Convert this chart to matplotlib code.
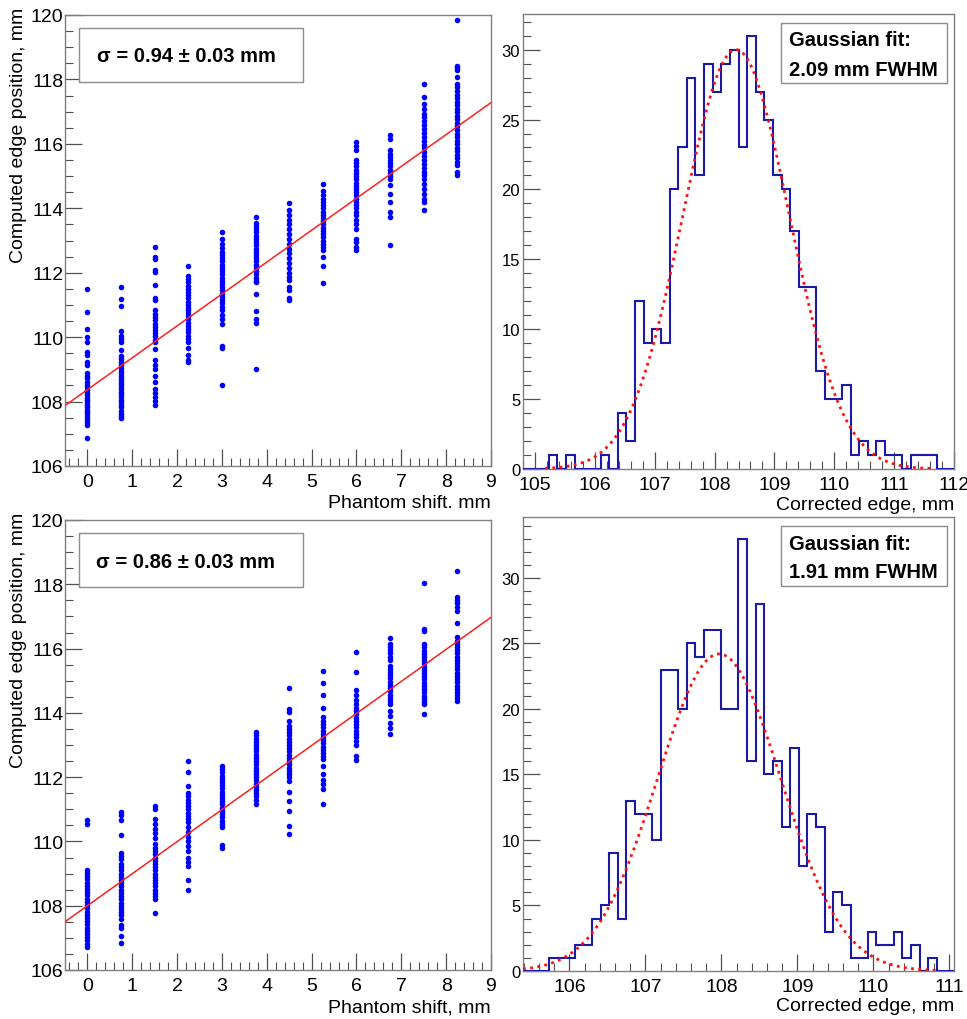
import matplotlib
matplotlib.use('Agg')
import matplotlib.pyplot as plt
import numpy as np
from matplotlib.ticker import MultipleLocator
from matplotlib.patches import Rectangle

plt.rcParams['font.family'] = ['Liberation Sans', 'DejaVu Sans']

W, H = 967, 1020

# phantom shifts (mm) of the 12 scan positions
shift = [0, 0.75, 1.5, 2.25, 3, 3.75, 4.5, 5.25, 6, 6.75, 7.5, 8.25]

# computed edge positions, upper data set (one list per shift)
top_cols = [
    [111.50, 110.79, 110.25, 110.0, 109.85, 109.55, 109.45, 109.22, 109.15, 108.88, 108.80, 108.72, 108.62,
     108.52, 108.45, 108.36, 108.28, 108.20, 108.12, 108.05, 107.98, 107.90, 107.82, 107.75, 107.68, 107.60,
     107.52, 107.45, 107.36, 107.28, 106.86],
    [111.55, 111.18, 110.97, 110.18, 110.05, 109.95, 109.85, 109.60, 109.42, 109.32, 109.22, 109.12, 109.05,
     108.95, 108.88, 108.78, 108.70, 108.62, 108.55, 108.45, 108.38, 108.30, 108.22, 108.15, 108.05, 107.98,
     107.90, 107.82, 107.72, 107.62, 107.55, 107.48],
    [112.80, 112.48, 112.42, 112.08, 112.02, 111.63, 111.20, 111.14, 110.85, 110.72, 110.62, 110.52, 110.42,
     110.32, 110.22, 110.12, 110.02, 109.92, 109.85, 109.62, 109.28, 109.15, 109.02, 108.80, 108.62, 108.40,
     108.28, 108.15, 108.02, 107.90],
    [112.22, 111.90, 111.80, 111.70, 111.60, 111.50, 111.40, 111.30, 111.20, 111.10, 111.00, 110.92, 110.85,
     110.75, 110.65, 110.55, 110.45, 110.35, 110.25, 110.15, 110.05, 109.95, 109.85, 109.65, 109.45, 109.30,
     109.22],
    [113.27, 113.05, 112.90, 112.78, 112.65, 112.55, 112.45, 112.35, 112.25, 112.15, 112.05, 111.95, 111.85,
     111.75, 111.65, 111.55, 111.45, 111.35, 111.25, 111.15, 111.05, 110.95, 110.85, 110.70, 110.55, 110.42,
     109.72, 109.65, 108.50],
    [113.73, 113.55, 113.45, 113.35, 113.25, 113.15, 113.05, 112.95, 112.85, 112.75, 112.65, 112.55, 112.45,
     112.35, 112.25, 112.15, 112.05, 111.95, 111.85, 111.75, 111.70, 111.34, 110.82, 110.56, 110.45, 109.01],
    [114.15, 113.95, 113.80, 113.65, 113.50, 113.35, 113.20, 113.05, 112.90, 112.75, 112.60, 112.45, 112.30,
     112.15, 112.00, 111.88, 111.78, 111.55, 111.45, 111.22, 111.14],
    [114.75, 114.55, 114.40, 114.30, 114.20, 114.10, 114.00, 113.90, 113.80, 113.70, 113.60, 113.50, 113.40,
     113.30, 113.20, 113.10, 113.00, 112.90, 112.80, 112.70, 112.48, 112.22, 111.68],
    [116.05, 115.92, 115.80, 115.50, 115.40, 115.30, 115.20, 115.10, 115.00, 114.90, 114.80, 114.70, 114.60,
     114.50, 114.40, 114.30, 114.20, 114.10, 114.00, 113.90, 113.80, 113.65, 113.50, 113.35, 113.05, 112.95,
     112.80, 112.72],
    [116.26, 116.16, 115.80, 115.70, 115.60, 115.50, 115.40, 115.30, 115.20, 115.10, 115.00, 114.90, 114.72,
     114.45, 114.20, 113.88, 113.72, 112.85],
    [117.86, 117.45, 117.24, 117.08, 116.93, 116.82, 116.70, 116.58, 116.46, 116.34, 116.22, 116.10, 115.98,
     115.86, 115.74, 115.62, 115.50, 115.38, 115.26, 115.14, 115.02, 114.90, 114.75, 114.60, 114.45, 114.30,
     114.19, 113.96],
    [119.84, 118.43, 118.35, 118.28, 118.07, 117.86, 117.75, 117.64, 117.53, 117.42, 117.31, 117.20, 117.09,
     116.98, 116.87, 116.76, 116.65, 116.54, 116.43, 116.32, 116.21, 116.10, 115.99, 115.88, 115.77, 115.66,
     115.55, 115.44, 115.33, 115.12, 115.02],
]

# computed edge positions, lower data set
bot_cols = [
    [110.68, 110.55, 109.12, 109.02, 108.92, 108.82, 108.72, 108.62, 108.52, 108.42, 108.32, 108.22, 108.12,
     108.02, 107.92, 107.82, 107.72, 107.62, 107.52, 107.42, 107.32, 107.22, 107.12, 107.02, 106.92, 106.82,
     106.72],
    [110.93, 110.82, 110.68, 110.20, 109.65, 109.55, 109.45, 109.30, 109.20, 109.10, 109.00, 108.90, 108.80,
     108.70, 108.60, 108.50, 108.40, 108.30, 108.20, 108.10, 108.00, 107.90, 107.80, 107.70, 107.60, 107.40,
     107.30, 107.07, 106.85],
    [111.11, 111.00, 110.70, 110.55, 110.40, 110.25, 110.10, 109.92, 109.80, 109.70, 109.60, 109.50, 109.40,
     109.30, 109.20, 109.10, 109.00, 108.90, 108.80, 108.70, 108.60, 108.50, 108.40, 108.30, 108.20, 107.76],
    [112.51, 112.15, 111.73, 111.50, 111.40, 111.30, 111.20, 111.10, 111.00, 110.90, 110.80, 110.70, 110.60,
     110.45, 110.30, 110.15, 110.00, 109.85, 109.70, 109.50, 109.35, 109.25, 108.80, 108.50],
    [112.36, 112.25, 112.15, 112.05, 111.95, 111.85, 111.75, 111.65, 111.55, 111.45, 111.35, 111.25, 111.15,
     111.05, 110.95, 110.85, 110.75, 110.65, 110.55, 110.45, 109.90, 109.80],
    [113.40, 113.30, 113.20, 113.10, 113.00, 112.90, 112.80, 112.70, 112.60, 112.50, 112.40, 112.30, 112.20,
     112.10, 112.00, 111.90, 111.80, 111.70, 111.60, 111.50, 111.40, 111.30, 111.16],
    [114.76, 114.12, 114.02, 113.75, 113.60, 113.50, 113.40, 113.30, 113.20, 113.10, 113.00, 112.90, 112.80,
     112.70, 112.60, 112.50, 112.40, 112.30, 112.20, 112.10, 112.00, 111.89, 111.53, 111.27, 110.95, 110.49,
     110.23],
    [115.31, 114.93, 114.57, 114.15, 113.86, 113.75, 113.65, 113.55, 113.45, 113.35, 113.25, 113.15, 113.05,
     112.95, 112.85, 112.75, 112.65, 112.56, 112.36, 112.10, 111.90, 111.80, 111.63, 111.16],
    [115.90, 115.28, 114.70, 114.55, 114.40, 114.28, 114.15, 114.05, 113.95, 113.85, 113.75, 113.65, 113.55,
     113.45, 113.35, 113.25, 113.12, 113.00, 112.65, 112.52],
    [116.32, 116.15, 116.05, 115.95, 115.85, 115.75, 115.64, 115.47, 115.37, 115.27, 115.17, 115.07, 114.97,
     114.87, 114.77, 114.67, 114.57, 114.47, 114.37, 114.27, 114.06, 113.90, 113.70, 113.54, 113.34],
    [118.05, 116.61, 116.55, 116.14, 116.04, 115.94, 115.84, 115.74, 115.64, 115.54, 115.44, 115.34, 115.24,
     115.14, 115.04, 114.94, 114.84, 114.74, 114.64, 114.54, 114.44, 114.34, 114.28, 113.97],
    [118.40, 117.62, 117.52, 117.42, 117.30, 117.18, 116.80, 116.35, 116.25, 116.15, 116.05, 115.95, 115.85,
     115.75, 115.65, 115.55, 115.45, 115.35, 115.25, 115.15, 115.05, 114.95, 114.85, 114.75, 114.65, 114.55,
     114.45, 114.38],
]

# straight-line fits (intercept, slope)
top_line = (108.37, 0.99)
bot_line = (108.00, 0.997)

# corrected edge histograms: 50 bins each
top_counts = [0, 0, 0, 1, 0, 1, 0, 0, 0, 1, 0, 4, 2, 12, 9, 10, 9, 20, 23, 28, 21, 29, 27, 29, 30,
              23, 31, 27, 25, 21, 20, 17, 13, 13, 7, 5, 5, 6, 1, 2, 1, 2, 1, 1, 0, 1, 1, 1, 0, 0]
top_range = (104.8, 112.0)
bot_counts = [0, 0, 0, 1, 1, 1, 2, 2, 4, 5, 9, 4, 13, 12, 12, 10, 23, 23, 20, 25, 24, 26, 26, 20, 20,
              33, 16, 28, 15, 16, 11, 17, 8, 12, 11, 3, 6, 5, 1, 1, 3, 2, 2, 3, 1, 2, 0, 1, 0, 0]
bot_range = (105.39, 111.06)

# gaussian fits: amplitude, mean, FWHM, fit range
top_gauss = (30.0, 108.36, 2.09, 105.17, 111.67)
bot_gauss = (24.2, 107.97, 1.91, 105.39, 110.82)

sigma_text = ['\u03c3 = 0.94 \u00b1 0.03 mm', '\u03c3 = 0.86 \u00b1 0.03 mm']
fwhm_text = ['2.09 mm FWHM', '1.91 mm FWHM']
xlab_scatter = ['Phantom shift. mm', 'Phantom shift, mm']

SPINE = '#808080'
TICK = '#505050'


def px(x, y):
    return x / W, 1 - y / H


def add_axes(l, t, r, b):
    x0, y0 = px(l, b)
    x1, y1 = px(r, t)
    ax = fig.add_axes([x0, y0, x1 - x0, y1 - y0])
    for s in ax.spines.values():
        s.set_color(SPINE)
        s.set_linewidth(1.0)
    ax.tick_params(which='both', direction='in', top=False, right=False, color=TICK)
    ax.tick_params(which='major', length=12, width=0.9)
    ax.tick_params(which='minor', length=6, width=0.8)
    return ax


def box(l, t, r, b):
    x0, y0 = px(l, b)
    x1, y1 = px(r, t)
    fig.add_artist(Rectangle((x0, y0), x1 - x0, y1 - y0, transform=fig.transFigure,
                             facecolor='white', edgecolor='#8c8c8c', lw=1.0, zorder=5))


fig = plt.figure(figsize=(W / 100, H / 100), dpi=100)

# rows: (top px, bottom px)
rows = [(16, 467), (521, 971)]
hist_rows = [(15, 470), (518, 972)]
cols_data = [top_cols, bot_cols]
lines = [top_line, bot_line]
hists = [(top_counts, top_range, top_gauss), (bot_counts, bot_range, bot_gauss)]

for i in range(2):
    t, b = rows[i]
    ax = add_axes(65, t, 491, b)
    for x, ys in zip(shift, cols_data[i]):
        ax.plot([x] * len(ys), ys, 'o', color='#0000ff', ms=4.0, mew=0, zorder=3)
    a, k = lines[i]
    xl = np.array([-0.5, 9.0])
    ax.plot(xl, a + k * xl, color='#ff2020', lw=1.1, zorder=4)
    ax.set_xlim(-0.5, 9)
    ax.set_ylim(106, 120)
    ax.xaxis.set_major_locator(MultipleLocator(1))
    ax.xaxis.set_minor_locator(MultipleLocator(0.2))
    ax.yaxis.set_major_locator(MultipleLocator(2))
    ax.yaxis.set_minor_locator(MultipleLocator(0.5))
    ax.tick_params(axis='x', labelsize=14, pad=5)
    ax.tick_params(axis='y', labelsize=14, pad=1)
    fx, fy = px(491, b + 37)
    fig.text(fx, fy, xlab_scatter[i], ha='right', va='center', fontsize=14)
    fx, fy = px(19, t - 8)
    fig.text(fx, fy, 'Computed edge position, mm', rotation=90, ha='center', va='top', fontsize=14)

    # sigma box
    bt = t + 13
    box(79, bt, 303, bt + 54)
    fx, fy = px(186, bt + 28)
    fig.text(fx, fy, sigma_text[i], ha='center', va='center', fontsize=14.5, fontweight='bold', zorder=6)

    # histogram
    counts, rng, g = hists[i]
    ht, hb = hist_rows[i]
    hx = add_axes(523, ht, 954, hb)
    edges = np.linspace(rng[0], rng[1], len(counts) + 1)
    hx.stairs(counts, edges, color='#1a1aa6', lw=1.5, zorder=3)
    amp, mu, fw, g0, g1 = g
    sg = fw / 2.3548
    xg = np.linspace(g0, g1, 400)
    hx.plot(xg, amp * np.exp(-0.5 * ((xg - mu) / sg) ** 2), color='#ff1010', lw=2.0,
            linestyle=(0, (1, 1.6)), zorder=4)
    hx.set_xlim(rng)
    hx.set_ylim(0, max(counts) * 1.05)
    hx.xaxis.set_major_locator(MultipleLocator(1))
    hx.xaxis.set_minor_locator(MultipleLocator(0.2))
    hx.yaxis.set_major_locator(MultipleLocator(5))
    hx.yaxis.set_minor_locator(MultipleLocator(1))
    hx.tick_params(axis='x', labelsize=14, pad=5)
    hx.tick_params(axis='y', labelsize=12, pad=2)
    fx, fy = px(954, hb + 35)
    fig.text(fx, fy, 'Corrected edge, mm', ha='right', va='center', fontsize=14)

    # gaussian fit box
    gt = ht + 9
    box(781, gt, 947, gt + 60)
    fx, fy = px(789, gt + 17)
    fig.text(fx, fy, 'Gaussian fit:', ha='left', va='center', fontsize=14.5, fontweight='bold', zorder=6)
    fx, fy = px(789, gt + 46)
    fig.text(fx, fy, fwhm_text[i], ha='left', va='center', fontsize=14.5, fontweight='bold', zorder=6)

fig.savefig('out.png', dpi=100, facecolor='white')
